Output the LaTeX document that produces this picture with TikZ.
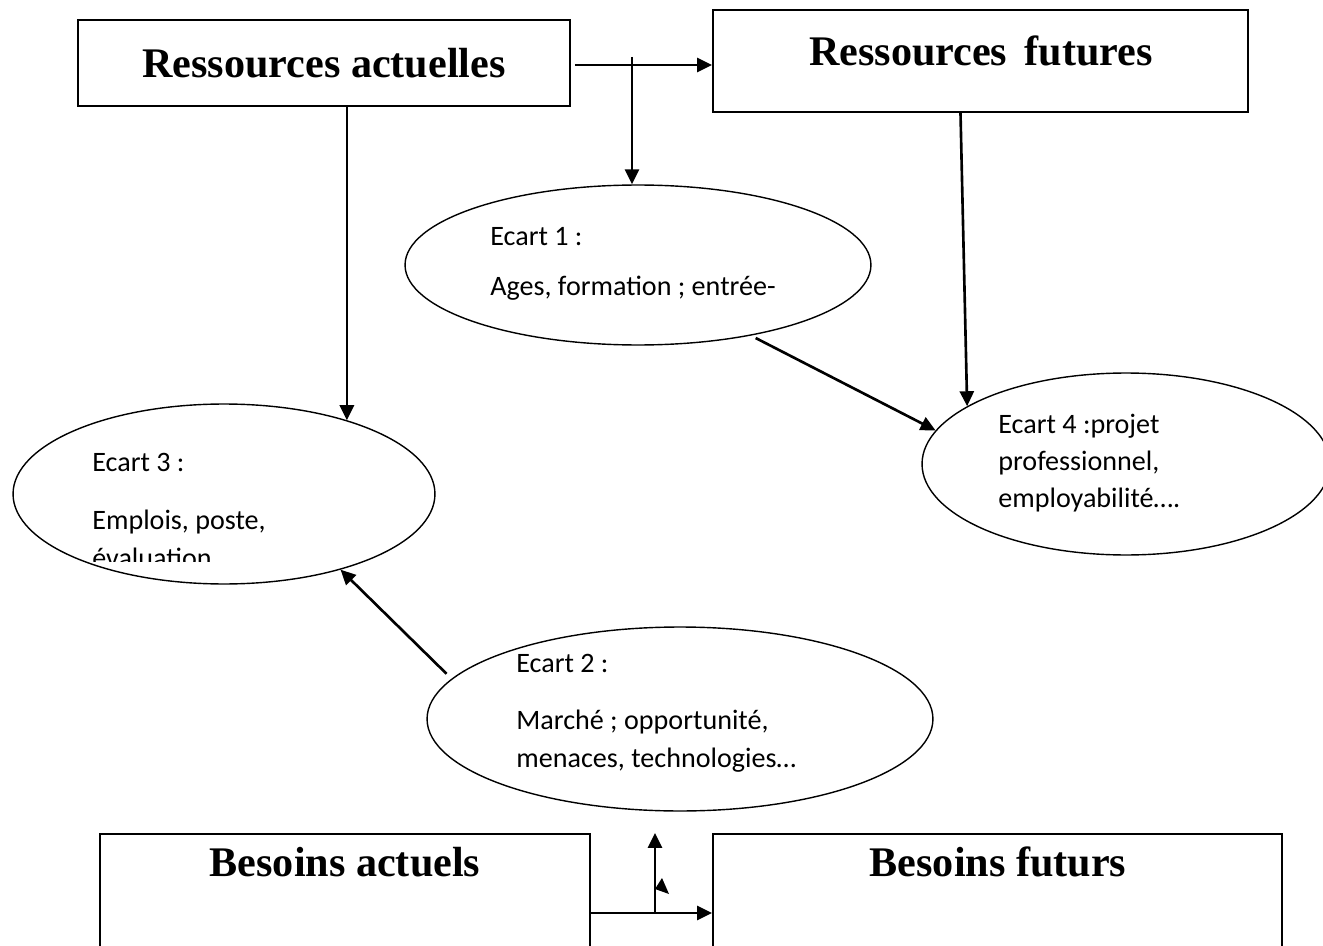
\documentclass[tikz,border=0pt]{standalone}
\usepackage{fontspec}
\setmainfont{Liberation Serif}
\newfontfamily\ecartfont{Carlito}
\usetikzlibrary{shapes.geometric,arrows.meta,positioning,calc}

\begin{document}
\begin{tikzpicture}[x=0.02cm,y=-0.02cm,
    boite/.style={draw, rectangle, line width=1.1pt, inner sep=0pt},
    titre/.style={font=\fontsize{24}{28}\selectfont\bfseries, inner sep=0pt, anchor=base},
    ecart/.style={draw, ellipse, line width=0.8pt, inner sep=0pt},
    txt/.style={font=\ecartfont\fontsize{16}{20}\selectfont, inner sep=0pt, anchor=base west},
    fleche/.style={line width=1.5pt, -{Triangle[length=8.5pt,width=8pt]}}]

    \useasboundingbox (0,0) rectangle (1323,946);

    % les quatre cadres
    \node[boite, minimum width=9.84cm, minimum height=1.72cm] (ra) at (324,63) {};
    \node[boite, minimum width=10.7cm, minimum height=2.04cm] (rf) at (980.5,61) {};
    \node[boite, minimum width=9.8cm, minimum height=2.8cm] (ba) at (345,904) {};
    \node[boite, minimum width=11.38cm, minimum height=2.8cm] (bf) at (997.5,904) {};

    \node[titre] at (324,78) {Ressources actuelles};
    \node[titre] at (981,66) {Ressources\, futures};
    \node[titre] at (345,876) {Besoins actuels};
    \node[titre] at (998,876) {Besoins futurs};

    % les ecarts
    \node[ecart, minimum width=9.32cm, minimum height=3.2cm] (e1) at (638,265) {};
    \node[ecart, minimum width=10.12cm, minimum height=3.68cm] (e2) at (680,719) {};
    \node[ecart, minimum width=8.44cm, minimum height=3.6cm] (e3) at (224,494) {};
    \node[ecart, minimum width=8.16cm, minimum height=3.64cm] (e4) at (1126,464) {};

    \node[txt] at (490,245) {Ecart 1 :};
    \node[txt] at (490,296) {Ages, formation ; entrée-};

    \node[txt] at (516,672) {Ecart 2 :};
    \node[txt] at (516,729) {Marché ; opportunité,};
    \node[txt] at (516,767) {menaces, technologies…};

    \node[txt] at (92,471) {Ecart 3 :};
    \node[txt] at (92,529) {Emplois, poste,};
    \begin{scope}
        \clip (80,540) rectangle (300,561);
        \node[txt] at (92,567) {évaluation….};
    \end{scope}

    \node[txt] at (998,433) {Ecart 4 :projet};
    \node[txt] at (998,470) {professionnel,};
    \node[txt] at (998,507) {employabilité….};

    % fleches
    \coordinate (jonction) at (632,57);
    \coordinate (pied) at (655,913);

    \draw[fleche] ($(ra.east)+(4,2)$) -- ($(ra.east -| rf.west)+(0,2)$);
    \draw[fleche] (jonction) -- (jonction |- e1.north);
    \draw[fleche] (ra.south -| e3.31) -- (e3.31);
    \draw[fleche] ($(rf.south)+(-20,0)$) -- (e4.160);
    \draw[fleche, shorten <=3pt] (e1.-32) -- (e4.170);
    \draw[fleche, shorten <=4pt] (e2.170) -- (e3.-33);
    \draw[fleche] ($(ba.east)+(0,9)$) -- ($(ba.east -| bf.west)+(0,9)$);
    \draw[fleche] (pied) -- (pied |- bf.north);
    \fill ($(pied)+(7,-35)$) -- ($(pied)+(0,-24)$) -- ($(pied)+(14,-19)$) -- cycle;

\end{tikzpicture}
\end{document}
